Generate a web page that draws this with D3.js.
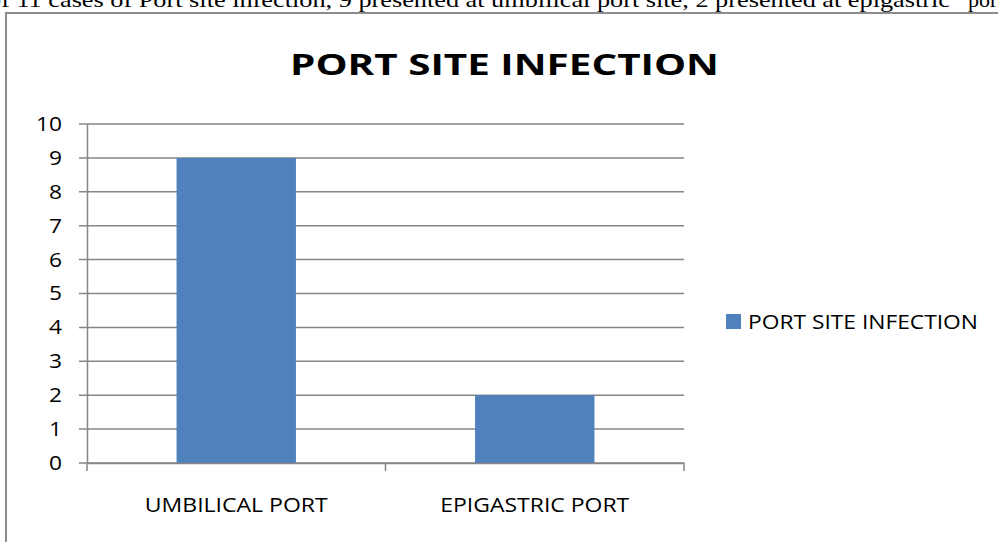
<!DOCTYPE html>
<html>
<head>
<meta charset="utf-8">
<script src="https://cdnjs.cloudflare.com/ajax/libs/d3/7.8.5/d3.min.js"></script>
<style>
  body { margin: 0; background: #fff; overflow: hidden; }
  .tick text { font-family: "Open Sans", "Liberation Sans", sans-serif; }
</style>
</head>
<body>
<div class="chart"></div>
<script>
// chart data
var categories = ["UMBILICAL PORT", "EPIGASTRIC PORT"];
var categoryWidths = [183, 189];
var seriesName = "PORT SITE INFECTION";
var seriesValues = [9, 2];
var yTicks = [0, 1, 2, 3, 4, 5, 6, 7, 8, 9, 10];
var captionVisible = "of 11 cases of Port site infection, 9 presented at umbilical port site, 2 presented at epigastric";
var captionRest = "port site.";

var svgWidth = 998;
var svgHeight = 542;
var margin = { top: 124, right: 314, bottom: 79, left: 87 };
var width = svgWidth - margin.left - margin.right;
var height = svgHeight - margin.top - margin.bottom;
var sans = "'Open Sans', 'Liberation Sans', sans-serif";

var svg = d3.select(".chart")
  .append("svg")
  .attr("width", svgWidth)
  .attr("height", svgHeight);

// clipped paragraph text above the chart
svg.append("text")
  .attr("x", -12)
  .attr("y", 7)
  .attr("font-family", "'Liberation Serif', 'Times New Roman', serif")
  .attr("font-size", "22px")
  .attr("fill", "#000")
  .attr("textLength", 962)
  .attr("lengthAdjust", "spacingAndGlyphs")
  .text(captionVisible);
svg.append("text")
  .attr("x", 968)
  .attr("y", 7)
  .attr("font-family", "'Liberation Serif', 'Times New Roman', serif")
  .attr("font-size", "22px")
  .attr("fill", "#000")
  .text(captionRest);

// chart frame
svg.append("rect")
  .attr("x", 6)
  .attr("y", 13)
  .attr("width", 1100)
  .attr("height", 600)
  .attr("fill", "none")
  .attr("stroke", "#8c8c8c")
  .attr("stroke-width", 2);

svg.append("text")
  .attr("x", 504.5)
  .attr("y", 75)
  .attr("text-anchor", "middle")
  .attr("font-family", sans)
  .attr("font-weight", "bold")
  .attr("font-size", "29px")
  .attr("textLength", 429)
  .attr("lengthAdjust", "spacingAndGlyphs")
  .text(seriesName);

var chart = svg.append("g")
  .attr("transform", "translate(" + margin.left + "," + margin.top + ")");

var xScale = d3.scaleBand()
  .domain(categories)
  .range([0, width])
  .paddingInner(0.6)
  .paddingOuter(0.3);

var yScale = d3.scaleLinear()
  .domain([0, 10])
  .range([height, 0]);

// gridlines
chart.append("g")
  .selectAll("line")
  .data(yTicks)
  .enter()
  .append("line")
  .attr("x1", -8)
  .attr("x2", width)
  .attr("y1", function(d) { return yScale(d); })
  .attr("y2", function(d) { return yScale(d); })
  .attr("stroke", "#868686")
  .attr("stroke-width", 1.5);

// bars
chart.selectAll(".bar")
  .data(seriesValues)
  .enter()
  .append("rect")
  .attr("class", "bar")
  .attr("x", function(d, i) { return xScale(categories[i]); })
  .attr("y", function(d) { return yScale(d); })
  .attr("width", xScale.bandwidth())
  .attr("height", function(d) { return height - yScale(d); })
  .attr("fill", "#4F81BD");

// y axis
var leftAxis = d3.axisLeft(yScale)
  .tickValues(yTicks)
  .tickSize(0)
  .tickPadding(25);

var yAxis = chart.append("g").call(leftAxis);
yAxis.select(".domain")
  .attr("stroke", "#868686")
  .attr("stroke-width", 1.5);
yAxis.selectAll(".tick text")
  .attr("font-size", "20px")
  .attr("fill", "#000")
  .attr("textLength", function(d) { return 13 * String(d).length; })
  .attr("lengthAdjust", "spacingAndGlyphs");

// x axis
var bottomAxis = d3.axisBottom(xScale)
  .tickSize(0)
  .tickPadding(0);

var xAxis = chart.append("g")
  .attr("transform", "translate(0," + height + ")")
  .call(bottomAxis);
xAxis.select(".domain")
  .attr("stroke", "#868686")
  .attr("stroke-width", 1.5);
xAxis.selectAll(".tick text")
  .attr("font-size", "20px")
  .attr("fill", "#000")
  .attr("y", 49)
  .attr("dy", null)
  .attr("textLength", function(d, i) { return categoryWidths[i]; })
  .attr("lengthAdjust", "spacingAndGlyphs");

// category separator ticks
chart.append("g")
  .selectAll("line")
  .data(d3.range(categories.length + 1))
  .enter()
  .append("line")
  .attr("x1", function(i) { return i * width / categories.length; })
  .attr("x2", function(i) { return i * width / categories.length; })
  .attr("y1", height)
  .attr("y2", height + 8)
  .attr("stroke", "#868686")
  .attr("stroke-width", 1.5);

// legend
var legend = svg.append("g")
  .attr("transform", "translate(726,314)");
legend.append("rect")
  .attr("width", 15)
  .attr("height", 15)
  .attr("fill", "#4F81BD");
legend.append("text")
  .attr("x", 22)
  .attr("y", 15)
  .attr("font-family", sans)
  .attr("font-size", "20px")
  .attr("fill", "#000")
  .attr("textLength", 230)
  .attr("lengthAdjust", "spacingAndGlyphs")
  .text(seriesName);
</script>
</body>
</html>
